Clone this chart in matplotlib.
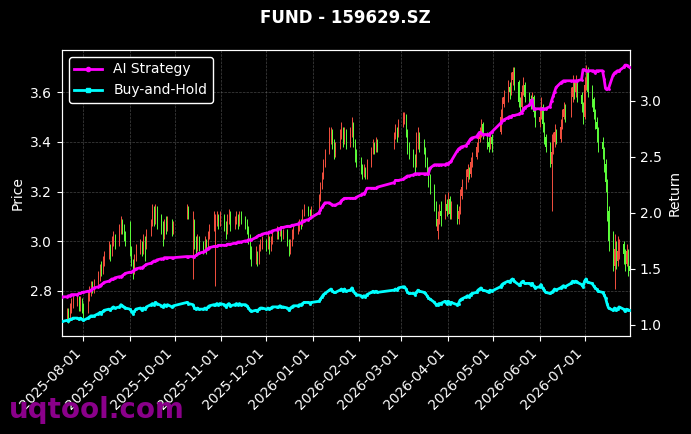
import matplotlib
matplotlib.use("Agg")
import matplotlib.pyplot as plt
import matplotlib.dates as mdates
import numpy as np
import pandas as pd

# ---------------- data ----------------
title = "FUND - 159629.SZ"
start_date = "2025-07-18"
end_date = "2026-07-31"
holidays = ["2025-10-01", "2025-10-02", "2025-10-03", "2025-10-06", "2025-10-07",
            "2025-10-08", "2026-01-01", "2026-01-02", "2026-02-16", "2026-02-17",
            "2026-02-18", "2026-02-19", "2026-02-20", "2026-02-23", "2026-04-06",
            "2026-05-01", "2026-05-04", "2026-05-05", "2026-06-19"]

opens = [
    2.68,
    2.70, 2.72, 2.69, 2.72, 2.75,
    2.76, 2.77, 2.74, 2.76, 2.73,
    2.72, 2.78, 2.80, 2.82, 2.81,
    2.83, 2.86, 2.89, 2.88, 2.92,
    2.94, 2.97, 2.95, 3.00, 3.02,
    2.99, 3.04, 3.08, 3.06, 3.02,
    3.00, 2.97, 2.92, 2.88, 2.93,
    2.97, 2.99, 2.96, 3.01, 2.98,
    3.03, 3.07, 3.12, 3.09, 3.13,
    3.10, 3.06, 3.02, 3.07, 3.05,
    3.08, 3.04,
    3.10, 3.13,
    3.02, 3.08, 3.00, 2.97, 3.01,
    2.98, 2.97, 3.00, 2.98, 3.02,
    3.05, 3.05, 3.08, 3.10, 3.08,
    3.10, 3.07, 3.04, 3.09, 3.11,
    3.06, 3.08, 3.10, 3.07, 3.11,
    3.09, 3.07, 3.05, 3.01, 2.96,
    2.93, 2.95, 2.92, 2.97, 2.99,
    3.00, 2.98, 3.01, 2.97, 3.00,
    3.02, 3.04, 3.03, 3.05, 3.02,
    3.04, 3.00, 2.96, 2.99, 3.03,
    3.05, 3.06, 3.08, 3.07, 3.11,
    3.13, 3.12, 3.11,
    3.13, 3.17, 3.22, 3.26, 3.31,
    3.36, 3.41, 3.44, 3.39, 3.36,
    3.38, 3.42, 3.45, 3.40, 3.44,
    3.39, 3.43, 3.47, 3.40, 3.35,
    3.33, 3.30, 3.27, 3.29, 3.26,
    3.31, 3.36, 3.39, 3.37, 3.40,
    3.38, 3.42, 3.45, 3.43,
    3.47, 3.49, 3.50, 3.44, 3.38,
    3.35, 3.33, 3.31, 3.38, 3.42,
    3.39, 3.37, 3.33, 3.29, 3.25,
    3.22, 3.14, 3.04, 3.09, 3.12,
    3.10, 3.15, 3.12, 3.17, 3.11,
    3.14, 3.09, 3.12, 3.18,
    3.22, 3.26, 3.29, 3.27, 3.32,
    3.34, 3.38, 3.41, 3.44, 3.47,
    3.43, 3.40, 3.38, 3.42,
    3.44, 3.50, 3.55,
    3.58, 3.62, 3.60, 3.65, 3.68,
    3.64, 3.56, 3.54, 3.60, 3.63,
    3.58, 3.57, 3.55, 3.58, 3.52,
    3.48, 3.50, 3.54, 3.47, 3.42,
    3.38, 3.31, 3.36, 3.40, 3.44,
    3.41, 3.46, 3.50, 3.53,
    3.51, 3.58, 3.62, 3.60, 3.64,
    3.59, 3.55, 3.50, 3.63, 3.69,
    3.60, 3.57, 3.52, 3.48, 3.45,
    3.40, 3.37, 3.31, 3.24, 3.12,
    3.00, 2.90, 2.97, 2.92, 2.96,
    2.99, 2.95, 2.91, 2.96, 2.90,
]

highs = [
    2.72,
    2.73, 2.73, 2.75, 2.77, 2.78,
    2.79, 2.78, 2.78, 2.77, 2.75,
    2.80, 2.82, 2.84, 2.84, 2.85,
    2.88, 2.91, 2.92, 2.94, 2.96,
    3.00, 2.99, 3.02, 3.04, 3.03,
    3.07, 3.10, 3.09, 3.07, 3.04,
    3.08, 2.98, 2.93, 2.95, 2.99,
    3.01, 3.00, 3.03, 3.02, 3.05,
    3.09, 3.15, 3.14, 3.15, 3.14,
    3.11, 3.08, 3.09, 3.10, 3.10,
    3.09, 3.08,
    3.15, 3.14,
    3.12, 3.09, 3.02, 3.03, 3.02,
    3.00, 3.02, 3.01, 3.04, 3.07,
    3.12, 3.11, 3.12, 3.11, 3.12,
    3.11, 3.08, 3.11, 3.13, 3.12,
    3.10, 3.12, 3.11, 3.12, 3.12,
    3.10, 3.09, 3.06, 3.03, 2.98,
    2.98, 2.96, 2.99, 3.01, 3.02,
    3.01, 3.03, 3.02, 3.02, 3.04,
    3.06, 3.05, 3.06, 3.06, 3.05,
    3.05, 3.01, 3.01, 3.05, 3.06,
    3.08, 3.09, 3.09, 3.13, 3.15,
    3.14, 3.13, 3.14,
    3.19, 3.24, 3.28, 3.33, 3.37,
    3.46, 3.46, 3.45, 3.41, 3.40,
    3.45, 3.48, 3.46, 3.46, 3.45,
    3.46, 3.50, 3.48, 3.41, 3.37,
    3.34, 3.31, 3.31, 3.30, 3.33,
    3.38, 3.41, 3.40, 3.42, 3.41,
    3.44, 3.47, 3.46, 3.49,
    3.52, 3.52, 3.51, 3.45, 3.40,
    3.37, 3.35, 3.44, 3.46, 3.44,
    3.41, 3.38, 3.34, 3.30, 3.27,
    3.23, 3.16, 3.12, 3.15, 3.16,
    3.19, 3.17, 3.20, 3.18, 3.16,
    3.15, 3.14, 3.21, 3.25,
    3.29, 3.31, 3.30, 3.34, 3.36,
    3.40, 3.43, 3.46, 3.49, 3.48,
    3.44, 3.42, 3.44, 3.43,
    3.53, 3.58, 3.61,
    3.65, 3.64, 3.68, 3.70, 3.70,
    3.65, 3.58, 3.63, 3.66, 3.64,
    3.60, 3.59, 3.60, 3.59, 3.54,
    3.54, 3.58, 3.55, 3.48, 3.43,
    3.40, 3.43, 3.44, 3.47, 3.45,
    3.49, 3.53, 3.56, 3.55,
    3.62, 3.67, 3.64, 3.67, 3.65,
    3.60, 3.56, 3.66, 3.71, 3.70,
    3.63, 3.58, 3.53, 3.50, 3.46,
    3.42, 3.38, 3.33, 3.25, 3.14,
    3.04, 3.03, 3.00, 3.02, 3.01,
    3.00, 2.97, 2.99, 2.97, 2.93,
]

lows = [
    2.67,
    2.68, 2.67, 2.68, 2.71, 2.73,
    2.74, 2.72, 2.72, 2.71, 2.69,
    2.71, 2.76, 2.78, 2.79, 2.79,
    2.82, 2.84, 2.86, 2.87, 2.90,
    2.93, 2.92, 2.94, 2.98, 2.97,
    2.98, 3.03, 3.03, 3.00, 2.98,
    2.94, 2.90, 2.85, 2.87, 2.92,
    2.95, 2.94, 2.95, 2.92, 2.97,
    3.02, 3.06, 3.06, 3.07, 3.05,
    3.03, 2.98, 3.01, 3.03, 3.04,
    3.02, 3.03,
    3.09, 3.09,
    2.85, 2.97, 2.95, 2.96, 2.96,
    2.95, 2.96, 2.95, 2.97, 3.01,
    3.04, 2.82, 3.06, 3.05, 3.06,
    3.04, 3.01, 3.03, 3.07, 3.04,
    3.05, 3.07, 3.05, 3.06, 3.07,
    3.05, 3.03, 2.99, 2.93, 2.90,
    2.91, 2.90, 2.91, 2.96, 2.97,
    2.96, 2.97, 2.95, 2.96, 2.99,
    3.01, 3.01, 3.02, 3.00, 3.01,
    2.98, 2.94, 2.95, 2.98, 3.01,
    3.03, 3.04, 3.05, 3.06, 3.10,
    3.10, 3.10, 3.10,
    3.12, 3.16, 3.21, 3.25, 3.30,
    3.35, 3.39, 3.37, 3.33, 3.34,
    3.37, 3.41, 3.38, 3.39, 3.37,
    3.38, 3.42, 3.38, 3.32, 3.30,
    3.27, 3.25, 3.26, 3.25, 3.25,
    3.30, 3.35, 3.35, 3.36, 3.36,
    3.37, 3.41, 3.40, 3.42,
    3.46, 3.47, 3.42, 3.35, 3.33,
    3.30, 3.27, 3.30, 3.37, 3.36,
    3.35, 3.30, 3.27, 3.22, 3.19,
    3.12, 3.06, 3.01, 3.07, 3.06,
    3.09, 3.10, 3.11, 3.09, 3.09,
    3.07, 3.07, 3.11, 3.17,
    3.21, 3.24, 3.25, 3.26, 3.30,
    3.33, 3.36, 3.40, 3.42, 3.41,
    3.37, 3.36, 3.37, 3.36,
    3.43, 3.49, 3.54,
    3.56, 3.57, 3.59, 3.63, 3.61,
    3.54, 3.52, 3.53, 3.59, 3.56,
    3.55, 3.53, 3.54, 3.50, 3.46,
    3.46, 3.49, 3.44, 3.39, 3.36,
    3.30, 3.12, 3.35, 3.38, 3.39,
    3.40, 3.45, 3.49, 3.48,
    3.50, 3.56, 3.57, 3.58, 3.56,
    3.52, 3.47, 3.49, 3.61, 3.58,
    3.54, 3.49, 3.45, 3.40, 3.36,
    3.33, 3.28, 3.20, 3.08, 2.96,
    2.88, 2.81, 2.89, 2.90, 2.93,
    2.91, 2.88, 2.90, 2.86, 2.85,
]

closes = [
    2.70,
    2.71, 2.69, 2.73, 2.75, 2.76,
    2.77, 2.74, 2.76, 2.73, 2.72,
    2.78, 2.80, 2.82, 2.81, 2.83,
    2.86, 2.89, 2.88, 2.92, 2.94,
    2.97, 2.95, 3.00, 3.02, 2.99,
    3.04, 3.08, 3.06, 3.02, 3.00,
    2.97, 2.92, 2.88, 2.93, 2.97,
    2.99, 2.96, 3.01, 2.98, 3.03,
    3.07, 3.12, 3.09, 3.13, 3.10,
    3.06, 3.02, 3.07, 3.05, 3.08,
    3.04, 3.06,
    3.13, 3.11,
    3.08, 3.00, 2.97, 3.01, 2.98,
    2.97, 3.00, 2.98, 3.02, 3.05,
    3.09, 3.08, 3.10, 3.08, 3.10,
    3.07, 3.04, 3.09, 3.11, 3.06,
    3.08, 3.10, 3.07, 3.11, 3.09,
    3.07, 3.05, 3.01, 2.96, 2.93,
    2.95, 2.92, 2.97, 2.99, 3.00,
    2.98, 3.01, 2.97, 3.00, 3.02,
    3.04, 3.03, 3.05, 3.02, 3.04,
    3.00, 2.96, 2.99, 3.03, 3.05,
    3.06, 3.08, 3.07, 3.11, 3.13,
    3.12, 3.11, 3.13,
    3.17, 3.22, 3.26, 3.31, 3.35,
    3.41, 3.44, 3.39, 3.36, 3.38,
    3.42, 3.45, 3.40, 3.44, 3.39,
    3.43, 3.47, 3.40, 3.35, 3.33,
    3.30, 3.27, 3.29, 3.26, 3.31,
    3.36, 3.39, 3.37, 3.40, 3.38,
    3.42, 3.45, 3.43, 3.47,
    3.49, 3.50, 3.44, 3.38, 3.35,
    3.33, 3.31, 3.38, 3.42, 3.39,
    3.37, 3.33, 3.29, 3.25, 3.22,
    3.14, 3.08, 3.09, 3.12, 3.10,
    3.15, 3.12, 3.17, 3.11, 3.14,
    3.09, 3.12, 3.18, 3.22,
    3.26, 3.29, 3.27, 3.32, 3.34,
    3.38, 3.41, 3.44, 3.47, 3.43,
    3.40, 3.38, 3.42, 3.39,
    3.50, 3.55, 3.58,
    3.62, 3.60, 3.65, 3.68, 3.64,
    3.56, 3.54, 3.60, 3.63, 3.58,
    3.57, 3.55, 3.58, 3.52, 3.48,
    3.50, 3.54, 3.47, 3.42, 3.38,
    3.35, 3.36, 3.40, 3.44, 3.41,
    3.46, 3.50, 3.53, 3.51,
    3.58, 3.62, 3.60, 3.64, 3.59,
    3.55, 3.50, 3.63, 3.69, 3.60,
    3.57, 3.52, 3.48, 3.45, 3.40,
    3.37, 3.31, 3.24, 3.12, 3.00,
    2.93, 2.97, 2.92, 2.96, 2.99,
    2.95, 2.91, 2.96, 2.90, 2.88,
]

ai_strategy = [
    1.25,
    1.25, 1.26, 1.26, 1.27, 1.27,
    1.27, 1.28, 1.28, 1.29, 1.29,
    1.30, 1.30, 1.31, 1.32, 1.33,
    1.34, 1.35, 1.36, 1.37, 1.38,
    1.39, 1.40, 1.41, 1.41, 1.42,
    1.43, 1.43, 1.44, 1.45, 1.46,
    1.47, 1.47, 1.48, 1.49, 1.50,
    1.51, 1.51, 1.52, 1.53, 1.54,
    1.55, 1.56, 1.57, 1.57, 1.58,
    1.59, 1.59, 1.60, 1.60, 1.60,
    1.60, 1.60,
    1.61, 1.61,
    1.61, 1.61, 1.62, 1.63, 1.64,
    1.65, 1.66, 1.67, 1.68, 1.69,
    1.70, 1.70, 1.70, 1.71, 1.71,
    1.71, 1.71, 1.72, 1.72, 1.72,
    1.73, 1.73, 1.74, 1.74, 1.74,
    1.75, 1.75, 1.76, 1.76, 1.76,
    1.78, 1.79, 1.80, 1.80, 1.81,
    1.82, 1.82, 1.83, 1.83, 1.84,
    1.85, 1.86, 1.86, 1.87, 1.87,
    1.88, 1.88, 1.88, 1.89, 1.89,
    1.90, 1.91, 1.91, 1.92, 1.93,
    1.94, 1.95, 1.96,
    2.00, 2.03, 2.05, 2.07, 2.09,
    2.09, 2.08, 2.07, 2.07, 2.07,
    2.09, 2.11, 2.12, 2.13, 2.13,
    2.13, 2.13, 2.13, 2.13, 2.14,
    2.16, 2.17, 2.17, 2.19, 2.22,
    2.22, 2.22, 2.22, 2.22, 2.23,
    2.27, 2.29, 2.29, 2.29,
    2.30, 2.31, 2.32, 2.33, 2.33,
    2.34, 2.35, 2.35, 2.35, 2.35,
    2.35, 2.35, 2.35, 2.35, 2.40,
    2.43, 2.43, 2.43, 2.43, 2.43,
    2.43, 2.44, 2.44, 2.45, 2.46,
    2.55, 2.57, 2.58, 2.59,
    2.60, 2.62, 2.64, 2.66, 2.67,
    2.68, 2.70, 2.72, 2.71, 2.70,
    2.70, 2.70, 2.71, 2.72,
    2.80, 2.82, 2.83,
    2.85, 2.86, 2.86, 2.87, 2.87,
    2.88, 2.89, 2.89, 2.92, 2.94,
    2.96, 2.98, 3.01, 2.93, 2.93,
    2.93, 2.93, 2.93, 2.93, 2.93,
    2.95, 3.00, 3.04, 3.08, 3.12,
    3.16, 3.17, 3.18, 3.18,
    3.18, 3.18, 3.18, 3.18, 3.18,
    3.19, 3.28, 3.28, 3.27, 3.27,
    3.27, 3.27, 3.25, 3.27, 3.27,
    3.27, 3.20, 3.11, 3.11, 3.11,
    3.23, 3.25, 3.26, 3.27, 3.27,
    3.30, 3.32, 3.32, 3.31, 3.30,
]

buy_and_hold = [
    1.03,
    1.04, 1.03, 1.05, 1.05, 1.06,
    1.06, 1.05, 1.06, 1.05, 1.04,
    1.06, 1.07, 1.08, 1.08, 1.08,
    1.10, 1.11, 1.10, 1.12, 1.13,
    1.14, 1.13, 1.15, 1.16, 1.15,
    1.16, 1.18, 1.17, 1.16, 1.15,
    1.14, 1.12, 1.10, 1.12, 1.14,
    1.15, 1.13, 1.15, 1.14, 1.16,
    1.18, 1.19, 1.18, 1.20, 1.19,
    1.17, 1.16, 1.18, 1.17, 1.18,
    1.16, 1.17,
    1.20, 1.19,
    1.18, 1.15, 1.14, 1.15, 1.14,
    1.14, 1.15, 1.14, 1.16, 1.17,
    1.18, 1.18, 1.19, 1.18, 1.19,
    1.18, 1.16, 1.18, 1.19, 1.17,
    1.18, 1.19, 1.18, 1.19, 1.18,
    1.18, 1.17, 1.15, 1.13, 1.12,
    1.13, 1.12, 1.14, 1.15, 1.15,
    1.14, 1.15, 1.14, 1.15, 1.16,
    1.16, 1.16, 1.17, 1.16, 1.16,
    1.15, 1.13, 1.15, 1.16, 1.17,
    1.17, 1.18, 1.18, 1.19, 1.20,
    1.20, 1.19, 1.20,
    1.21, 1.23, 1.25, 1.27, 1.28,
    1.31, 1.32, 1.30, 1.29, 1.29,
    1.31, 1.32, 1.30, 1.32, 1.30,
    1.31, 1.33, 1.30, 1.28, 1.27,
    1.26, 1.25, 1.26, 1.25, 1.27,
    1.29, 1.30, 1.29, 1.30, 1.29,
    1.31, 1.32, 1.31, 1.33,
    1.34, 1.34, 1.32, 1.29, 1.28,
    1.28, 1.27, 1.29, 1.31, 1.30,
    1.29, 1.28, 1.26, 1.24, 1.23,
    1.20, 1.18, 1.18, 1.19, 1.19,
    1.21, 1.19, 1.21, 1.19, 1.20,
    1.18, 1.19, 1.22, 1.23,
    1.25, 1.26, 1.25, 1.27, 1.28,
    1.29, 1.31, 1.32, 1.33, 1.31,
    1.30, 1.29, 1.31, 1.30,
    1.34, 1.36, 1.37,
    1.39, 1.38, 1.40, 1.41, 1.39,
    1.36, 1.36, 1.38, 1.39, 1.37,
    1.37, 1.36, 1.37, 1.35, 1.33,
    1.34, 1.36, 1.33, 1.31, 1.29,
    1.28, 1.29, 1.30, 1.32, 1.31,
    1.33, 1.34, 1.35, 1.34,
    1.37, 1.39, 1.38, 1.39, 1.38,
    1.36, 1.34, 1.39, 1.41, 1.38,
    1.37, 1.35, 1.33, 1.32, 1.30,
    1.29, 1.27, 1.24, 1.19, 1.15,
    1.13, 1.15, 1.13, 1.14, 1.16,
    1.14, 1.12, 1.14, 1.13, 1.13,
]

# ---------------- build ----------------
dates = pd.bdate_range(start_date, end_date)
dates = dates[~dates.isin(pd.to_datetime(holidays))]
n = min(len(dates), len(opens), len(highs), len(lows), len(closes),
        len(ai_strategy), len(buy_and_hold))
dates = dates[:n]
o = np.array(opens[:n]); h = np.array(highs[:n])
l = np.array(lows[:n]); c = np.array(closes[:n])
ai = np.array(ai_strategy[:n]); bh = np.array(buy_and_hold[:n])

UP = "#f4503f"
DOWN = "#5cff3a"

fig = plt.figure(figsize=(6.91, 4.34), dpi=100, facecolor="black")
ax = fig.add_axes([0.0897, 0.2258, 0.822, 0.659])
ax.set_facecolor("black")

xd = mdates.date2num(dates.to_pydatetime())
cols = np.where(c >= o, UP, DOWN)
ax.vlines(xd, l, h, colors=cols, linewidth=0.7, zorder=2)
ax.bar(xd, np.abs(c - o), bottom=np.minimum(o, c), width=0.5,
       color=cols, linewidth=0, zorder=2)

ax.set_xlim(xd[0] - 0.3, xd[-1] + 0.3)
ax.set_ylim(2.619, 3.769)
ax.set_yticks([2.8, 3.0, 3.2, 3.4, 3.6])
ax.set_ylabel("Price", color="white", fontsize=10)
ax.grid(True, linestyle="--", linewidth=0.5, color="#888888", alpha=0.5)
ax.set_axisbelow(True)

ax.xaxis.set_major_locator(mdates.MonthLocator())
ax.xaxis.set_major_formatter(mdates.DateFormatter("%Y-%m-%d"))
plt.setp(ax.get_xticklabels(), rotation=45, ha="right")

ax2 = ax.twinx()
ax2.plot(xd, ai, color="#ff00ff", linewidth=2, marker="o", markersize=1,
         label="AI Strategy", zorder=3)
ax2.plot(xd, bh, color="#00ffff", linewidth=2, marker="s", markersize=1,
         label="Buy-and-Hold", zorder=3)
ax2.set_ylim(0.90, 3.455)
ax2.set_yticks([1.0, 1.5, 2.0, 2.5, 3.0])
ax2.set_ylabel("Return", color="white", fontsize=10)

for a in (ax, ax2):
    a.tick_params(colors="white", labelsize=10)
    for s in a.spines.values():
        s.set_color("white")

leg = ax2.legend(loc="upper left", fontsize=10, facecolor="black",
                 edgecolor="white", labelcolor="white", markerscale=3)
leg.get_frame().set_alpha(1.0)

fig.text(0.5, 1 - 18 / 434, title, ha="center", va="center",
         color="white", fontsize=12, fontweight="bold")
fig.text(0.013, 0.055, "uqtool.com", ha="left", va="center",
         color="#8a008a", fontsize=20, fontweight="bold", zorder=10)

fig.savefig("out.png", dpi=100, facecolor="black")
